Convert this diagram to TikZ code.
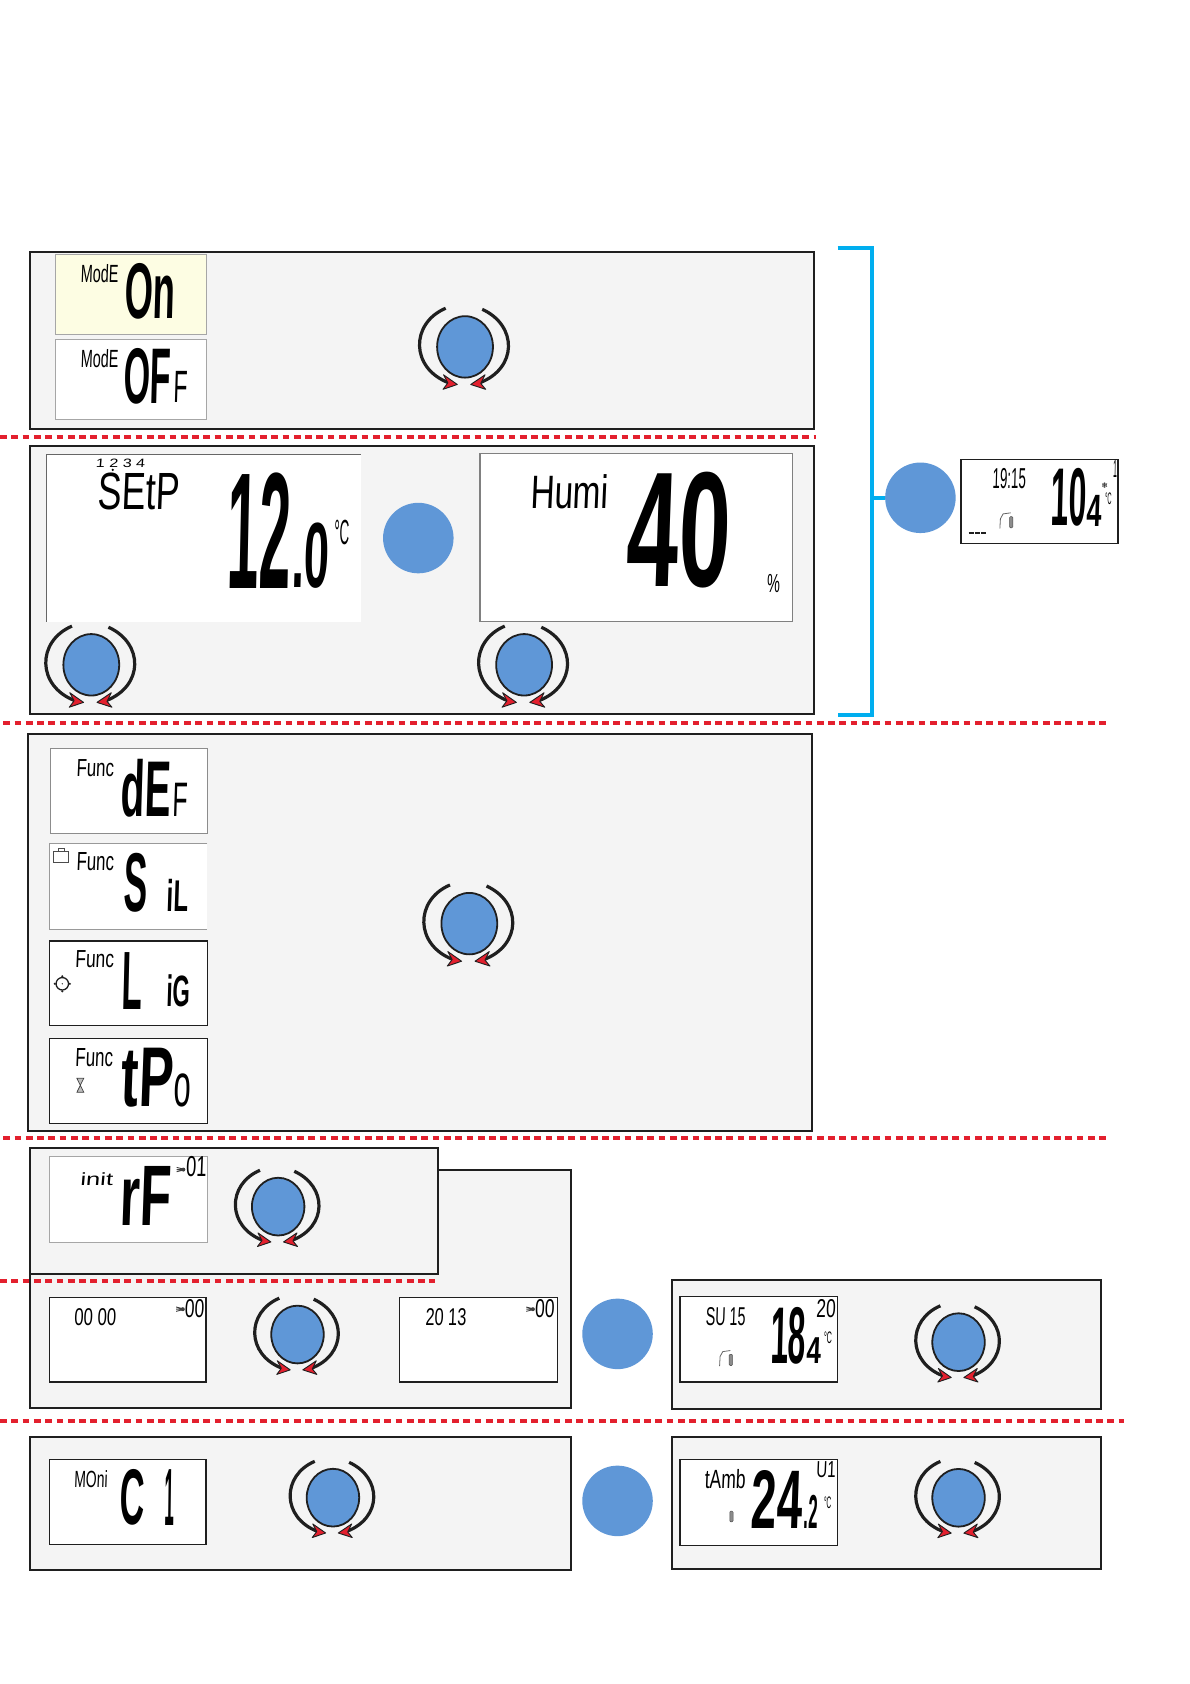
\documentclass[tikz,border=0pt]{standalone}
\usepackage{graphicx}
\usepackage{fontspec}
\setmainfont{Liberation Sans}
\newfontfamily\lcdthin{Liberation Sans}[FakeSlant=0.06]
\newfontfamily\lcdthick{Liberation Sans Bold}[FakeSlant=0.06]
\newfontfamily\symfont{DejaVu Sans}
\definecolor{panelbg}{HTML}{F4F4F4}
\definecolor{knobblue}{HTML}{5F97D7}
\definecolor{dashred}{HTML}{E3202E}
\definecolor{brcyan}{HTML}{00AEEF}
\definecolor{lcdyellow}{HTML}{FDFDE3}
\definecolor{ink}{HTML}{1F1F1F}
\tikzset{
  panel/.style={draw=ink,line width=2bp,fill=panelbg},
  lcdgray/.style={draw=black!35,line width=1bp,fill=white},
  lcdblack/.style={draw=ink,line width=1.5bp,fill=white},
  reddash/.style={draw=dashred,line width=4bp,dash pattern=on 6.7bp off 4.6bp},
  bluedot/.style={circle,fill=knobblue,minimum size=70.5bp,inner sep=0,outer sep=0},
  knobarc/.style={draw=ink,line width=3.2bp},
  knobtip/.style={draw=ink,line width=0.9bp,fill=dashred,line join=round},
  tiny/.style={draw=black!70,line width=0.6bp},
  pics/knob/.style={code={
    \draw[draw=ink,line width=1.8bp,fill=knobblue] (0,0) ellipse (26 and 28.6);
    \draw[knobarc] (-18,-36) .. controls (-51,-22) and (-51,20) .. (-15,33.5);
    \draw[knobarc] (16,-35) .. controls (49,-20) and (49,20) .. (13.5,33.5);
    \draw[knobtip] (-20,26) -- (-7.2,35) -- (-20.5,39.5) -- (-16,33.5) -- cycle;
    \draw[knobtip] (18.6,26) -- (5.3,35) -- (19.2,39.5) -- (14.6,34) -- cycle;
  }},
  pics/thermo/.style={code={
    \draw[draw=black!60,line width=0.8bp] (0,16) -- (0.5,7) -- (3,2.5) -- (10,1.5);
    \draw[draw=black!70,fill=black!45,line width=0.5bp,rounded corners=1bp] (9,5) rectangle (12,15.5);
  }},
  pics/fan/.style={code={
    \draw[draw=black!75,line width=0.9bp] (0,1) -- (6,2.5) (0,3) -- (6,3) (0,5) -- (6,3.5);
    \fill[black!75] (6.2,3) circle (2bp);
  }}
}
\newcommand{\lcdfit}[6]{%
  \pgfmathsetmacro\lcdW{(#4-#2)*1.07398*1.00375}%
  \pgfmathsetmacro\lcdH{(#5-#3)*1.07398*1.00375}%
  \node[inner sep=0,outer sep=0] (#1) at ({(#2+#4)/2},{(#3+#5)/2}) {\resizebox*{\lcdW pt}{\lcdH pt}{#6}};%
}
\newcommand{\lcdS}[6]{\lcdfit{#1}{#2}{#3}{#4}{#5}{\lcdthin #6}}
\newcommand{\lcdB}[6]{\lcdfit{#1}{#2}{#3}{#4}{#5}{\lcdthick #6}}
\begin{document}
\begin{tikzpicture}[x=1.07398bp,y=-1.07398bp]
\useasboundingbox (0,0) rectangle (1108,1568);
\fill[white] (0,0) rectangle (1108,1568);

% panels
\draw[panel] (28,235) rectangle (758,399);
\draw[panel] (28,415) rectangle (758,665);
\draw[panel] (26,683) rectangle (756,1053);
\draw[panel] (28,1089) rectangle (532,1311);
\draw[panel] (28,1069) rectangle (408,1186);
\draw[panel] (626,1192) rectangle (1025,1312);
\draw[panel] (28,1338) rectangle (532,1462);
\draw[panel] (626,1338) rectangle (1025,1461);

% dashed separators
\draw[reddash] (0,407) -- (760,407);
\draw[reddash] (3,673) -- (1033,673);
\draw[reddash] (3,1060) -- (1033,1060);
\draw[reddash] (0,1193) -- (405,1193);
\draw[reddash] (0,1323) -- (1047,1323);

% bracket and blue dots
\node[bluedot] (dotmain) at (857,463.5) {};
\node[bluedot] (dotset) at (389.5,501) {};
\node[bluedot] (dotdate) at (575,1242) {};
\node[bluedot] (dotmoni) at (575,1397.5) {};
\draw[draw=brcyan,line width=3.8bp] (780,231) -- (812,231) -- (812,666) -- (780,666);
\coordinate (brmid) at (812,463.5);
\draw[draw=brcyan,line width=3.8bp] (brmid) -- (dotmain);

% LCD frames
\draw[lcdgray,fill=lcdyellow] (52,237) rectangle (192,311);
\draw[lcdgray] (52,316) rectangle (192,391);
\fill[white] (43,423) rectangle (336,579);
\draw[draw=black!60,line width=1bp] (43,579) -- (43,423) -- (336,423);
\draw[draw=black!50,line width=1.2bp,fill=white] (447,422) rectangle (738,579);
\draw[lcdgray,draw=black!45,line width=1.2bp] (47,697) rectangle (193,776);
\fill[white] (46,785) rectangle (193,865);
\draw[draw=black!40,line width=1bp] (193,785) -- (46,785) -- (46,865) -- (193,865);
\draw[lcdblack] (46,876) rectangle (193,955);
\draw[lcdblack] (46,967) rectangle (193,1046);
\draw[lcdgray] (46,1077) rectangle (193,1157);
\draw[lcdblack] (46,1208) rectangle (192,1287);
\draw[lcdblack] (372,1208) rectangle (519,1287);
\draw[lcdblack] (633,1207) rectangle (780,1287);
\draw[lcdblack] (46,1359) rectangle (192,1438);
\draw[lcdblack] (633,1359) rectangle (780,1439);
\draw[lcdblack] (895,428) rectangle (1041,506);

% knobs
\pic at (433,323) {knob};
\pic at (85,619) {knob};
\pic at (488,619) {knob};
\pic at (437,860) {knob};
\pic[scale=0.94] at (259,1123.5) {knob};
\pic[scale=0.94] at (277,1242.6) {knob};
\pic[scale=0.94] at (310,1394.5) {knob};
\pic[scale=0.94] at (892.5,1249.7) {knob};
\pic[scale=0.94] at (892.5,1394.6) {knob};

% LCD texts: mode
\lcdS{tmodeon}{75}{246}{110}{263}{ModE}
\lcdB{ton}{116}{245}{163}{297}{On}
\lcdS{tmodeoff}{75}{325}{110}{342}{ModE}
\lcdB{toff}{115}{324}{159}{376}{OF}
\lcdS{toffb}{162}{346}{175}{375}{F}

% setpoint
\lcdS{tprog}{89}{427}{135}{435}{1 2 3 4}
\fill[black] (105,437.5) circle (1.3bp);
\lcdS{tsetp}{91}{440.5}{167}{475}{SEtP}
\lcdB{ttwelve}{211}{440}{270}{547.6}{12}
\lcdB{tdeczero}{271}{487}{306}{548}{.0}
\lcdS{tdegset}{311}{484}{325}{507}{°C}
\lcdS{thumi}{493.5}{442}{566}{474}{Humi}
\lcdB{tforty}{582.6}{440}{679}{548}{40}
\lcdS{tpct}{714}{535}{726}{552}{\%}

% main display
\lcdS{tclock}{924}{436}{955}{455}{19:15}
\lcdB{tten}{978}{436}{1011}{490}{10}
\lcdB{tfour}{1012}{461}{1026}{490}{4}
\lcdS{tdegmain}{1029}{459}{1035}{470}{°C}
\node[inner sep=0,font=\symfont\fontsize{8}{8}\selectfont] (tsnow) at (1028.5,452.5) {❄};
\lcdS{tsetone}{1036.5}{429}{1040}{445}{1}
\draw[draw=ink,line width=2bp,dash pattern=on 5bp off 1.2bp] (902,496) -- (918,496);
\pic at (931,476) {thermo};

% func
\lcdS{tfa}{71}{707}{106}{723}{Func}
\lcdB{tdef}{112.6}{707}{159}{761}{dE}
\lcdS{tdefb}{161}{729}{175}{760}{F}
\draw[tiny] (50,792.5) rectangle (64,803);
\draw[tiny] (54,792.5) -- (54,790) -- (60,790) -- (60,792.5);
\lcdS{tfb}{71}{794}{106}{811}{Func}
\lcdB{tsil}{115}{794}{137}{849}{S}
\lcdB{tsilb}{155}{819}{175}{849}{iL}
\lcdS{tfc}{70}{885}{106}{901}{Func}
\draw[draw=ink,line width=1.3bp] (58,916) circle (5.8);
\fill[ink] (58,916) circle (0.7bp) (58,909) circle (1.2bp) (58,923) circle (1.2bp) (51,916) circle (1.2bp) (65,916) circle (1.2bp);
\lcdB{tlig}{113}{887}{132}{940}{L}
\lcdB{tligb}{155}{908}{177}{938}{iG}
\lcdS{tfd}{70}{976}{105}{993}{Func}
\draw[draw=black!75,line width=0.7bp,fill=black!25] (71.6,1004) -- (78,1004) -- (71.6,1017) -- (78,1017) -- cycle;
\lcdB{ttp}{112.6}{976}{161}{1031}{tP}
\lcdS{ttpb}{162}{1000}{178}{1031}{o}

% init and date
\lcdS{tinit}{74.5}{1092}{105}{1104}{init}
\lcdB{trf}{111.6}{1086}{159}{1141}{rF}
\pic at (164.5,1086) {fan};
\lcdS{tzeroone}{173}{1077}{192}{1096}{01}
\lcdS{ttime}{69}{1218}{108}{1234}{00 00}
\pic at (164,1216) {fan};
\lcdS{tzeroa}{172}{1210}{190}{1227}{00}
\lcdS{tyear}{396}{1218}{434}{1234}{20 13}
\pic at (490,1216) {fan};
\lcdS{tzerob}{498}{1210}{516}{1227}{00}

% swiss display
\lcdS{tsuis}{657}{1217}{694}{1234}{SU 15}
\lcdB{teight}{717}{1217}{750}{1270}{18}
\lcdB{tfourb}{751}{1246}{764.5}{1270}{4}
\lcdS{tdegsu}{767}{1240}{774.5}{1251}{°C}
\lcdS{ttwenty}{760}{1210}{778}{1227}{20}
\pic at (670,1256) {thermo};

% moni
\lcdS{tmoni}{69}{1369}{100}{1385}{MOni}
\lcdB{tc}{111}{1368}{134}{1420}{C}
\lcdB{tone}{153}{1368}{162}{1420}{1}

% tamb
\lcdS{ttamb}{656}{1368}{694}{1386}{tAmb}
\lcdB{ttf}{699}{1369}{746.5}{1423}{24}
\lcdB{tdect}{748}{1392}{761}{1423}{.2}
\lcdS{tdegt}{767}{1394}{774}{1405}{°C}
\lcdS{tuone}{760}{1361}{778}{1376}{U1}
\draw[draw=black!70,fill=black!45,line width=0.5bp,rounded corners=1bp] (679.5,1407) rectangle (682.5,1417);
\end{tikzpicture}
\end{document}
